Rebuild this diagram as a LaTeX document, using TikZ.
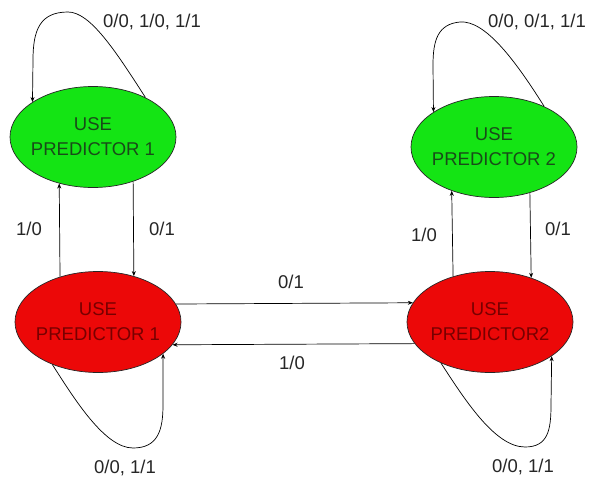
\documentclass[tikz,border=0pt]{standalone}
\usepackage{fontspec}
\setmainfont{Liberation Sans}
\usetikzlibrary{shapes.geometric,arrows.meta}
\definecolor{gfill}{RGB}{20,228,20}
\definecolor{rfill}{RGB}{236,8,8}
\definecolor{gtext}{RGB}{25,75,25}
\definecolor{rtext}{RGB}{120,0,0}
\tikzset{
  state/.style={ellipse, draw=black!85, line width=0.7pt, inner xsep=-6pt, inner ysep=0pt,
    minimum width=166pt, minimum height=101pt, align=center,
    font=\fontsize{18.5}{25}\selectfont},
  gstate/.style={state, fill=gfill, text=gtext},
  rstate/.style={state, fill=rfill, text=rtext},
  conn/.style={line width=0.7pt, -{Stealth[length=5pt,width=4pt]}},
  lbl/.style={font=\fontsize{18.5}{22}\selectfont, text=black!85, inner sep=0pt}
}
\begin{document}
\begin{tikzpicture}[x=1pt,y=-1pt]
\useasboundingbox (0,0) rectangle (589,477);
\node[gstate] (g1) at (93,137) {USE\\PREDICTOR 1};
\node[gstate] (g2) at (494,147) {USE\\PREDICTOR 2};
\node[rstate] (r1) at (98,322) {USE\\PREDICTOR 1};
\node[rstate] (r2) at (490,322) {USE\\PREDICTOR2};
% vertical connectors
\draw[conn] (r1.130) -- (g1.234.3);
\draw[conn] (g1.312.4) -- (r1.52.9);
\draw[conn] (r2.129.6) -- (g2.226.8);
\draw[conn] (g2.308.5) -- (r2.47.6);
% horizontal connectors
\draw[conn] (r1.13.9) -- (r2.166.1);
\draw[conn] (r2.196.5) -- (r1.343.6);
% self loops
\draw[conn] (g1.37.6) .. controls (115,50) and (90,12) .. (68,12)
  .. controls (40,12) and (33,30) .. (33,60) -- (g1.150);
\draw[conn] (g2.39.5) .. controls (515,60) and (485,20) .. (460,22)
  .. controls (438,24) and (433,40) .. (433,65) -- (g2.150.6);
\draw[conn] (r1.223) .. controls (75,400) and (105,448) .. (133,448)
  .. controls (158,448) and (163,430) .. (163,405) -- (r1.334);
\draw[conn] (r2.220.7) .. controls (465,400) and (495,447) .. (525,447)
  .. controls (548,447) and (551,430) .. (551,405) -- (r2.331);
% labels
\node[lbl] (l1) at (152,22) {0/0, 1/0, 1/1};
\node[lbl] (l2) at (537,22) {0/0, 0/1, 1/1};
\node[lbl] (l3) at (29,229) {1/0};
\node[lbl] (l4) at (162,229) {0/1};
\node[lbl] (l5) at (424,235) {1/0};
\node[lbl] (l6) at (558,229) {0/1};
\node[lbl] (l7) at (291,282) {0/1};
\node[lbl] (l8) at (292,363) {1/0};
\node[lbl] (l9) at (125,468) {0/0, 1/1};
\node[lbl] (l10) at (523,467) {0/0, 1/1};
\end{tikzpicture}
\end{document}
